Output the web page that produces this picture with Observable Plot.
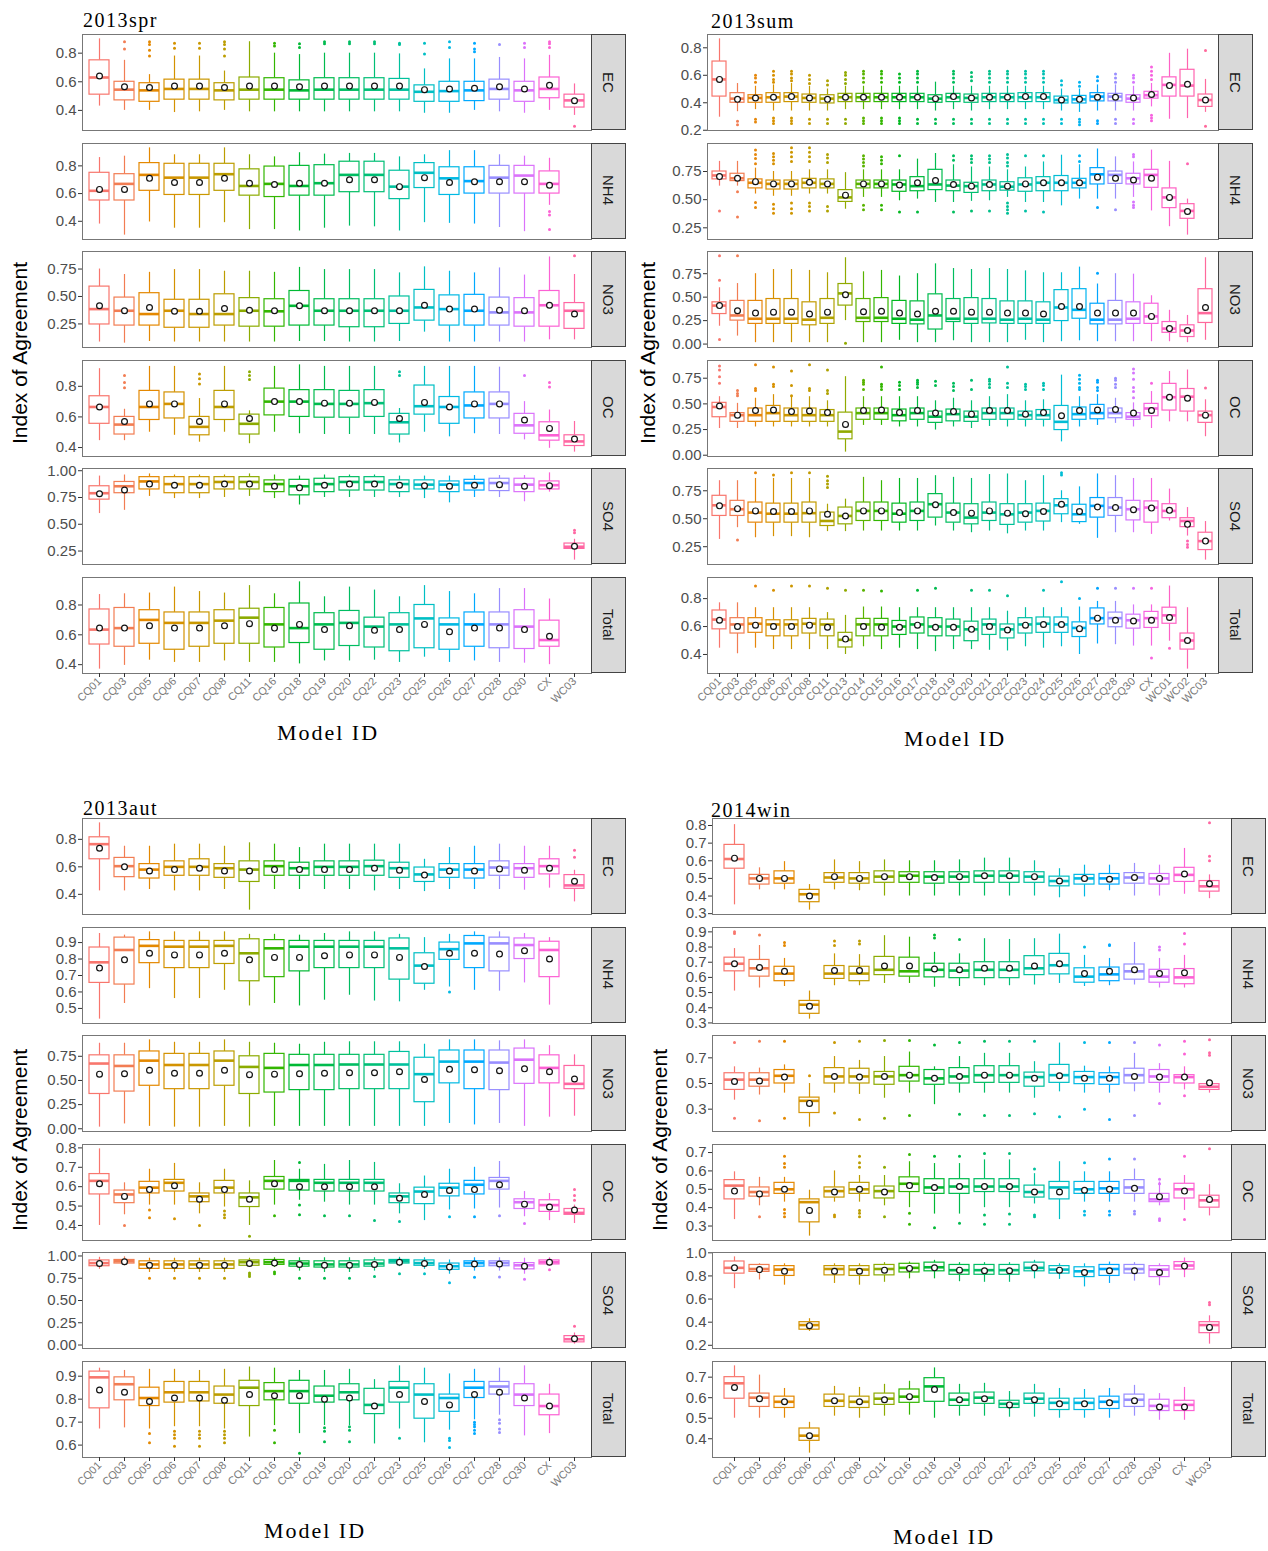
<!DOCTYPE html>
<html><head><meta charset="utf-8">
<script src="https://cdn.jsdelivr.net/npm/d3@7"></script>
<script src="https://cdn.jsdelivr.net/npm/@observablehq/plot@0.6"></script>
<style>
body{margin:0;background:#fff;}
#root{position:relative;width:1268px;height:1551px;overflow:hidden;background:#fff;font-family:"Liberation Sans",Arial,sans-serif;}
.strip{position:absolute;background:#d9d9d9;border:1px solid #444;box-sizing:border-box;display:flex;align-items:center;justify-content:center;writing-mode:vertical-rl;font-size:15px;color:#1a1a1a;}
.ytitle{position:absolute;transform:translate(-50%,-50%) rotate(-90deg);font-size:21px;color:#000;white-space:nowrap;}
.title{position:absolute;font-family:"Liberation Serif",serif;font-size:20px;letter-spacing:1.5px;line-height:1;color:#000;}
.xtitle{position:absolute;transform:translate(-50%,-50%);font-family:"Liberation Serif",serif;font-size:22px;letter-spacing:2px;white-space:nowrap;color:#000;}
</style></head><body><div id="root"></div>
<script>
// ---------- categories ----------
const modelsA = ["CQ01","CQ03","CQ05","CQ06","CQ07","CQ08","CQ11","CQ16","CQ18","CQ19","CQ20","CQ22","CQ23","CQ25","CQ26","CQ27","CQ28","CQ30","CX","WC03"];
const modelsB = ["CQ01","CQ03","CQ05","CQ06","CQ07","CQ08","CQ11","CQ13","CQ14","CQ15","CQ16","CQ17","CQ18","CQ19","CQ20","CQ21","CQ22","CQ23","CQ24","CQ25","CQ26","CQ27","CQ28","CQ30","CX","WC01","WC02","WC03"];
const facetNames = ["EC","NH4","NO3","OC","SO4","Total"];
// hue (HCL, c=100, l=65) given to each model
const huesA = [15,24,40,54,63,72,98,124,134,141,148,156,174,195,215,240,268,295,325,352];
const huesB = [15,24,38,52,60,68,80,96,116,124,130,136,141,146,153,164,171,178,186,205,225,245,268,292,318,334,345,355];
// row = [whiskerLow, Q1, median, Q3, whiskerHigh, mean, [outliers]]  (null = no data)

// ---------- 2013spr ----------
const spr_EC = [
[0.43,0.51,0.63,0.75,0.90,0.64,[]],
[0.40,0.47,0.545,0.60,0.75,0.565,[0.88,0.83]],
[0.40,0.46,0.54,0.59,0.65,0.56,[0.88,0.86,0.82,0.78]],
[0.385,0.475,0.55,0.615,0.78,0.57,[0.87,0.835]],
[0.39,0.475,0.55,0.615,0.78,0.57,[0.87,0.835]],
[0.40,0.47,0.54,0.59,0.675,0.56,[0.88,0.86,0.83,0.78]],
[0.39,0.475,0.545,0.63,0.88,0.57,[]],
[0.39,0.475,0.545,0.625,0.80,0.57,[0.87,0.85]],
[0.39,0.475,0.54,0.61,0.79,0.565,[0.865,0.84]],
[0.39,0.475,0.545,0.625,0.80,0.57,[0.88,0.865]],
[0.39,0.475,0.545,0.625,0.80,0.57,[0.88,0.865]],
[0.39,0.475,0.545,0.625,0.80,0.57,[0.88,0.865]],
[0.39,0.475,0.545,0.62,0.795,0.57,[0.87,0.86]],
[0.38,0.46,0.53,0.575,0.69,0.545,[0.87,0.795]],
[0.38,0.46,0.535,0.60,0.76,0.55,[0.88,0.84]],
[0.40,0.465,0.54,0.60,0.76,0.555,[0.87,0.83,0.81]],
[0.39,0.475,0.55,0.615,0.77,0.565,[0.86]],
[0.38,0.46,0.54,0.60,0.76,0.55,[0.87,0.84]],
[0.40,0.485,0.55,0.63,0.785,0.575,[0.88,0.865,0.84]],
[0.365,0.42,0.47,0.51,0.585,0.467,[0.29]]];
const spr_NH4 = [
[0.38,0.55,0.62,0.75,0.86,0.63,[]],
[0.30,0.55,0.67,0.74,0.87,0.63,[]],
[0.395,0.62,0.735,0.82,0.93,0.71,[]],
[0.35,0.59,0.715,0.815,0.88,0.68,[]],
[0.35,0.59,0.715,0.815,0.88,0.68,[]],
[0.39,0.62,0.74,0.815,0.93,0.71,[]],
[0.34,0.585,0.655,0.775,0.88,0.675,[]],
[0.34,0.575,0.67,0.795,0.865,0.665,[]],
[0.33,0.585,0.655,0.80,0.895,0.675,[]],
[0.35,0.585,0.675,0.805,0.885,0.675,[]],
[0.365,0.61,0.735,0.83,0.89,0.70,[]],
[0.36,0.61,0.735,0.83,0.89,0.70,[]],
[0.33,0.56,0.65,0.765,0.865,0.65,[]],
[0.39,0.64,0.75,0.82,0.88,0.715,[]],
[0.385,0.59,0.71,0.79,0.91,0.68,[]],
[0.38,0.60,0.69,0.79,0.91,0.685,[]],
[0.355,0.60,0.715,0.80,0.88,0.685,[]],
[0.325,0.60,0.73,0.80,0.87,0.685,[]],
[0.515,0.60,0.67,0.76,0.855,0.66,[0.47,0.445,0.34]],
null];
const spr_NO3 = [
[0.085,0.245,0.385,0.59,0.75,0.415,[]],
[0.075,0.235,0.37,0.49,0.70,0.37,[]],
[0.09,0.235,0.34,0.53,0.72,0.40,[]],
[0.085,0.215,0.37,0.47,0.745,0.365,[]],
[0.085,0.215,0.34,0.47,0.745,0.365,[]],
[0.085,0.235,0.34,0.52,0.73,0.39,[]],
[0.085,0.225,0.37,0.485,0.73,0.375,[]],
[0.085,0.225,0.365,0.475,0.72,0.37,[]],
[0.09,0.235,0.415,0.55,0.765,0.415,[]],
[0.09,0.235,0.37,0.475,0.745,0.37,[]],
[0.085,0.22,0.37,0.475,0.745,0.37,[]],
[0.085,0.22,0.37,0.475,0.745,0.37,[]],
[0.09,0.25,0.37,0.50,0.715,0.37,[]],
[0.175,0.28,0.40,0.56,0.77,0.42,[]],
[0.085,0.235,0.385,0.51,0.73,0.385,[]],
[0.085,0.235,0.37,0.515,0.715,0.385,[]],
[0.085,0.235,0.355,0.49,0.76,0.375,[]],
[0.085,0.225,0.355,0.485,0.695,0.37,[]],
[0.105,0.225,0.42,0.55,0.86,0.42,[]],
[0.105,0.205,0.37,0.44,0.70,0.34,[0.87]]];
const spr_OC = [
[0.445,0.555,0.665,0.735,0.915,0.665,[]],
[0.445,0.485,0.55,0.60,0.65,0.57,[0.87,0.825,0.79]],
[0.50,0.58,0.665,0.77,0.93,0.685,[]],
[0.48,0.59,0.685,0.76,0.93,0.685,[]],
[0.435,0.48,0.535,0.60,0.72,0.57,[0.88,0.85,0.815]],
[0.50,0.58,0.665,0.77,0.93,0.685,[]],
[0.425,0.485,0.555,0.615,0.64,0.59,[0.895,0.87,0.845]],
[0.50,0.61,0.70,0.785,0.93,0.70,[]],
[0.49,0.60,0.70,0.775,0.94,0.70,[]],
[0.485,0.595,0.685,0.775,0.93,0.69,[]],
[0.485,0.595,0.685,0.77,0.93,0.69,[]],
[0.485,0.60,0.69,0.775,0.93,0.695,[]],
[0.43,0.485,0.565,0.62,0.655,0.59,[0.895,0.87]],
[0.50,0.615,0.67,0.805,0.93,0.695,[]],
[0.47,0.555,0.665,0.73,0.93,0.665,[]],
[0.49,0.59,0.675,0.76,0.93,0.685,[]],
[0.485,0.59,0.685,0.76,0.925,0.685,[]],
[0.45,0.49,0.545,0.62,0.70,0.58,[0.87]],
[0.395,0.445,0.48,0.565,0.645,0.525,[0.825,0.795]],
[0.37,0.41,0.44,0.48,0.57,0.455,[]]];
const spr_SO4 = [
[0.60,0.73,0.79,0.855,0.95,0.785,[]],
[0.63,0.79,0.855,0.895,0.96,0.82,[]],
[0.76,0.825,0.90,0.94,0.97,0.875,[]],
[0.74,0.79,0.875,0.94,0.96,0.865,[]],
[0.74,0.79,0.875,0.94,0.96,0.865,[]],
[0.75,0.825,0.895,0.94,0.96,0.875,[]],
[0.76,0.825,0.895,0.94,0.97,0.875,[]],
[0.74,0.80,0.875,0.91,0.96,0.855,[]],
[0.68,0.77,0.855,0.915,0.95,0.84,[]],
[0.75,0.80,0.875,0.925,0.96,0.865,[]],
[0.75,0.815,0.895,0.94,0.96,0.875,[]],
[0.75,0.815,0.895,0.94,0.96,0.875,[]],
[0.75,0.80,0.875,0.91,0.95,0.865,[]],
[0.74,0.825,0.87,0.91,0.95,0.86,[]],
[0.70,0.80,0.87,0.90,0.95,0.855,[]],
[0.75,0.815,0.885,0.915,0.955,0.865,[]],
[0.75,0.81,0.885,0.925,0.955,0.87,[]],
[0.71,0.80,0.87,0.925,0.955,0.855,[]],
[0.80,0.825,0.865,0.90,0.98,0.86,[]],
[0.165,0.27,0.29,0.32,0.36,0.295,[0.445,0.42]]];
const spr_Total = [
[0.37,0.535,0.635,0.77,0.87,0.645,[]],
[0.395,0.52,0.645,0.78,0.875,0.645,[]],
[0.43,0.54,0.70,0.765,0.88,0.66,[]],
[0.415,0.50,0.68,0.75,0.92,0.645,[]],
[0.415,0.52,0.68,0.75,0.89,0.645,[]],
[0.425,0.54,0.695,0.765,0.88,0.66,[]],
[0.415,0.54,0.715,0.775,0.93,0.675,[]],
[0.415,0.515,0.67,0.78,0.875,0.645,[]],
[0.405,0.545,0.645,0.81,0.955,0.67,[]],
[0.425,0.50,0.67,0.745,0.855,0.635,[]],
[0.425,0.525,0.68,0.76,0.92,0.66,[]],
[0.43,0.515,0.655,0.715,0.90,0.63,[]],
[0.415,0.49,0.67,0.745,0.855,0.635,[]],
[0.45,0.51,0.71,0.80,0.93,0.67,[]],
[0.415,0.50,0.67,0.71,0.89,0.62,[]],
[0.425,0.52,0.67,0.75,0.875,0.645,[]],
[0.415,0.51,0.67,0.75,0.91,0.645,[]],
[0.41,0.505,0.655,0.765,0.91,0.635,[]],
[0.40,0.52,0.565,0.695,0.84,0.59,[]],
null];

// ---------- 2013sum ----------
const sum_EC = [
[0.295,0.445,0.57,0.70,0.865,0.57,[]],
[0.335,0.40,0.43,0.47,0.54,0.425,[0.265,0.24]],
[0.35,0.40,0.435,0.455,0.52,0.435,[0.55,0.58,0.60,0.26,0.28]],
[0.34,0.40,0.44,0.47,0.53,0.44,[0.55,0.57,0.60,0.63,0.25,0.27,0.29]],
[0.34,0.405,0.445,0.47,0.54,0.445,[0.56,0.58,0.61,0.63,0.25,0.27,0.29]],
[0.34,0.40,0.435,0.46,0.52,0.435,[0.54,0.57,0.60,0.25,0.28]],
[0.34,0.395,0.43,0.455,0.50,0.425,[0.53,0.56,0.25,0.28]],
[0.35,0.405,0.44,0.465,0.52,0.44,[0.54,0.57,0.60,0.62,0.25,0.28]],
[0.35,0.405,0.44,0.465,0.52,0.44,[0.55,0.58,0.61,0.63,0.25,0.27,0.29]],
[0.35,0.405,0.44,0.465,0.52,0.44,[0.55,0.58,0.61,0.63,0.25,0.27,0.29]],
[0.35,0.405,0.44,0.465,0.52,0.44,[0.55,0.58,0.61,0.25,0.27,0.29]],
[0.35,0.405,0.44,0.465,0.52,0.44,[0.55,0.58,0.61,0.63,0.25,0.28]],
[0.34,0.40,0.43,0.455,0.55,0.43,[0.25,0.28]],
[0.35,0.405,0.44,0.465,0.52,0.445,[0.55,0.58,0.61,0.63,0.25,0.28]],
[0.34,0.40,0.435,0.46,0.52,0.435,[0.56,0.59,0.62,0.25,0.28]],
[0.35,0.405,0.44,0.465,0.52,0.44,[0.55,0.58,0.61,0.63,0.25,0.28]],
[0.35,0.405,0.44,0.465,0.52,0.44,[0.55,0.58,0.61,0.63,0.25,0.28]],
[0.35,0.405,0.44,0.47,0.52,0.445,[0.55,0.58,0.61,0.63,0.25,0.28]],
[0.35,0.405,0.44,0.47,0.52,0.445,[0.55,0.58,0.61,0.63,0.25,0.28]],
[0.34,0.395,0.42,0.445,0.50,0.42,[0.53,0.56,0.25,0.28]],
[0.33,0.395,0.425,0.45,0.50,0.425,[0.52,0.55,0.24,0.26,0.28]],
[0.34,0.41,0.445,0.47,0.53,0.44,[0.56,0.59,0.25,0.27]],
[0.34,0.41,0.445,0.465,0.53,0.44,[0.55,0.58,0.61,0.25,0.28]],
[0.34,0.40,0.43,0.455,0.52,0.435,[0.55,0.58,0.60,0.25,0.28]],
[0.37,0.43,0.455,0.48,0.54,0.46,[0.57,0.60,0.63,0.66,0.27,0.29,0.31]],
[0.28,0.445,0.53,0.585,0.76,0.525,[]],
[0.285,0.445,0.525,0.64,0.79,0.535,[]],
[0.33,0.37,0.42,0.46,0.57,0.42,[0.78,0.23]]];
const sum_NH4 = [
[0.62,0.68,0.715,0.75,0.84,0.705,[0.40]],
[0.62,0.665,0.69,0.73,0.84,0.69,[0.57,0.345]],
[0.55,0.60,0.65,0.68,0.78,0.66,[0.94,0.90,0.865,0.82,0.475,0.43]],
[0.53,0.59,0.64,0.67,0.75,0.64,[0.91,0.88,0.85,0.82,0.46,0.42,0.38]],
[0.53,0.59,0.64,0.67,0.75,0.64,[0.96,0.92,0.88,0.84,0.47,0.42,0.38]],
[0.55,0.60,0.65,0.685,0.765,0.655,[0.96,0.92,0.88,0.84,0.47,0.44,0.40]],
[0.55,0.60,0.64,0.68,0.765,0.64,[0.90,0.87,0.83,0.44,0.40]],
[0.415,0.48,0.52,0.585,0.74,0.54,[]],
[0.52,0.60,0.64,0.67,0.765,0.64,[0.89,0.86,0.83,0.80,0.45,0.41]],
[0.52,0.60,0.64,0.67,0.765,0.64,[0.88,0.85,0.82,0.45,0.41]],
[0.49,0.57,0.635,0.67,0.765,0.63,[0.89,0.39]],
[0.505,0.575,0.62,0.70,0.86,0.65,[0.39]],
[0.475,0.585,0.635,0.765,0.91,0.67,[]],
[0.475,0.575,0.625,0.67,0.81,0.635,[0.89,0.85,0.39]],
[0.485,0.56,0.62,0.65,0.79,0.62,[0.89,0.86,0.83,0.40]],
[0.49,0.575,0.635,0.67,0.79,0.635,[0.89,0.86,0.83,0.40]],
[0.52,0.58,0.615,0.655,0.765,0.62,[0.90,0.87,0.83,0.80,0.47,0.44,0.41,0.38]],
[0.475,0.57,0.635,0.69,0.79,0.64,[0.89,0.40]],
[0.475,0.575,0.65,0.70,0.835,0.65,[0.89,0.39]],
[0.445,0.575,0.65,0.71,0.895,0.65,[]],
[0.505,0.60,0.65,0.685,0.81,0.65,[0.89,0.84]],
[0.505,0.635,0.725,0.78,0.95,0.70,[0.43]],
[0.505,0.64,0.72,0.75,0.88,0.69,[0.41]],
[0.52,0.635,0.69,0.73,0.835,0.675,[0.90,0.88,0.48,0.45,0.43]],
[0.40,0.605,0.72,0.765,0.94,0.69,[]],
[0.26,0.425,0.52,0.60,0.84,0.52,[]],
[0.185,0.33,0.40,0.46,0.505,0.395,[0.82]],
null];
const sum_NO3 = [
[0.19,0.32,0.41,0.445,0.60,0.41,[0.94,0.68,0.05]],
[0.085,0.25,0.305,0.46,0.645,0.355,[0.94]],
[0.015,0.215,0.27,0.46,0.75,0.33,[]],
[0.015,0.215,0.27,0.48,0.795,0.34,[]],
[0.015,0.215,0.27,0.48,0.795,0.34,[]],
[0.015,0.20,0.26,0.445,0.785,0.32,[]],
[0.015,0.215,0.28,0.48,0.76,0.34,[]],
[0.25,0.41,0.54,0.64,0.92,0.525,[0.01]],
[0.015,0.235,0.28,0.48,0.77,0.345,[]],
[0.015,0.235,0.28,0.49,0.785,0.35,[]],
[0.04,0.215,0.27,0.46,0.725,0.33,[]],
[0.015,0.21,0.26,0.455,0.75,0.32,[]],
[0.015,0.155,0.305,0.53,0.855,0.35,[]],
[0.035,0.235,0.27,0.48,0.805,0.35,[]],
[0.015,0.215,0.27,0.49,0.795,0.34,[]],
[0.015,0.22,0.27,0.48,0.805,0.34,[]],
[0.015,0.215,0.26,0.455,0.795,0.33,[]],
[0.04,0.215,0.27,0.455,0.78,0.33,[]],
[0.015,0.215,0.26,0.445,0.76,0.32,[]],
[0.025,0.245,0.39,0.575,0.76,0.40,[]],
[0.035,0.27,0.365,0.585,0.82,0.40,[]],
[0.025,0.21,0.26,0.43,0.64,0.33,[0.755]],
[0.025,0.21,0.26,0.46,0.75,0.33,[]],
[0.025,0.215,0.27,0.445,0.745,0.33,[]],
[0.025,0.215,0.295,0.43,0.515,0.295,[]],
[0.025,0.12,0.165,0.235,0.36,0.165,[]],
[0.015,0.075,0.145,0.20,0.305,0.145,[]],
[0.04,0.225,0.33,0.585,0.92,0.39,[]]];
const sum_OC = [
[0.26,0.37,0.47,0.51,0.57,0.48,[0.87,0.83,0.765,0.70]],
[0.26,0.325,0.39,0.41,0.505,0.39,[0.63,0.60,0.58]],
[0.275,0.325,0.39,0.455,0.555,0.435,[0.88,0.65,0.63]],
[0.275,0.325,0.41,0.48,0.59,0.44,[0.86,0.69,0.67]],
[0.275,0.325,0.39,0.455,0.57,0.425,[0.82,0.68,0.58]],
[0.275,0.325,0.39,0.455,0.57,0.43,[0.88,0.65,0.63]],
[0.275,0.325,0.39,0.44,0.53,0.415,[0.83,0.63,0.60]],
[0.03,0.155,0.23,0.415,0.765,0.30,[]],
[0.29,0.345,0.41,0.455,0.57,0.435,[0.73,0.71,0.69,0.64]],
[0.29,0.345,0.41,0.455,0.57,0.44,[0.86,0.69,0.67,0.64]],
[0.275,0.33,0.39,0.445,0.57,0.415,[0.71,0.68,0.64]],
[0.275,0.345,0.41,0.455,0.57,0.435,[0.73,0.71,0.69,0.66]],
[0.245,0.315,0.375,0.425,0.53,0.41,[0.72,0.68]],
[0.275,0.33,0.40,0.445,0.555,0.425,[0.70,0.67,0.63]],
[0.26,0.325,0.375,0.425,0.53,0.40,[0.73,0.64]],
[0.28,0.345,0.41,0.455,0.57,0.435,[0.74,0.72,0.69,0.66]],
[0.275,0.345,0.41,0.455,0.59,0.435,[0.86,0.70,0.66]],
[0.275,0.345,0.39,0.425,0.53,0.40,[0.69,0.67,0.64]],
[0.275,0.345,0.39,0.44,0.54,0.415,[0.70,0.68,0.64]],
[0.13,0.245,0.325,0.48,0.78,0.385,[]],
[0.275,0.345,0.40,0.465,0.57,0.435,[0.78,0.74,0.70,0.66,0.64]],
[0.29,0.35,0.41,0.49,0.59,0.44,[0.73,0.71,0.66,0.63]],
[0.31,0.36,0.41,0.455,0.555,0.445,[0.75,0.73,0.69,0.66]],
[0.275,0.345,0.375,0.41,0.51,0.41,[0.84,0.80,0.74,0.66,0.62,0.56]],
[0.26,0.38,0.455,0.50,0.62,0.435,[0.70]],
[0.325,0.435,0.565,0.695,0.815,0.565,[]],
[0.325,0.425,0.57,0.645,0.83,0.555,[]],
[0.18,0.315,0.39,0.425,0.54,0.39,[0.655]]];
const sum_SO4 = [
[0.315,0.525,0.62,0.705,0.84,0.615,[]],
[0.42,0.525,0.585,0.66,0.84,0.59,[0.31]],
[0.33,0.465,0.555,0.645,0.86,0.57,[0.91]],
[0.34,0.465,0.545,0.635,0.86,0.565,[0.89]],
[0.34,0.465,0.545,0.635,0.86,0.565,[0.91]],
[0.33,0.465,0.55,0.645,0.86,0.57,[0.91]],
[0.385,0.435,0.48,0.555,0.63,0.54,[0.88,0.84,0.81,0.78]],
[0.385,0.45,0.525,0.60,0.675,0.525,[]],
[0.39,0.48,0.57,0.645,0.87,0.57,[]],
[0.39,0.48,0.57,0.645,0.84,0.57,[]],
[0.39,0.465,0.545,0.635,0.86,0.555,[]],
[0.39,0.48,0.57,0.645,0.86,0.57,[]],
[0.435,0.51,0.63,0.72,0.885,0.625,[]],
[0.39,0.465,0.555,0.635,0.87,0.555,[]],
[0.375,0.45,0.51,0.63,0.86,0.55,[]],
[0.39,0.48,0.555,0.645,0.895,0.57,[]],
[0.365,0.445,0.54,0.63,0.90,0.55,[]],
[0.39,0.465,0.555,0.63,0.84,0.545,[]],
[0.39,0.475,0.57,0.635,0.885,0.565,[]],
[0.465,0.54,0.62,0.675,0.75,0.63,[0.91,0.89]],
[0.45,0.47,0.54,0.625,0.785,0.565,[]],
[0.325,0.51,0.615,0.685,0.90,0.605,[]],
[0.375,0.525,0.60,0.685,0.885,0.60,[]],
[0.375,0.485,0.585,0.66,0.86,0.58,[]],
[0.36,0.465,0.60,0.655,0.86,0.595,[]],
[0.48,0.505,0.57,0.63,0.765,0.575,[]],
[0.345,0.425,0.48,0.505,0.60,0.45,[0.30,0.27,0.245]],
[0.13,0.22,0.30,0.375,0.475,0.30,[]]];
const sum_Total = [
[0.445,0.58,0.65,0.715,0.77,0.645,[]],
[0.405,0.55,0.615,0.66,0.77,0.60,[]],
[0.445,0.555,0.62,0.66,0.735,0.61,[0.89]],
[0.435,0.53,0.615,0.645,0.735,0.60,[0.86]],
[0.435,0.53,0.615,0.645,0.735,0.60,[0.89]],
[0.435,0.55,0.62,0.655,0.735,0.61,[0.89]],
[0.435,0.53,0.615,0.65,0.70,0.595,[0.875]],
[0.40,0.45,0.505,0.555,0.68,0.51,[0.86]],
[0.455,0.53,0.615,0.655,0.74,0.60,[0.86]],
[0.435,0.53,0.615,0.655,0.74,0.595,[0.855]],
[0.445,0.54,0.60,0.64,0.735,0.595,[]],
[0.435,0.55,0.615,0.665,0.735,0.61,[0.86]],
[0.42,0.53,0.60,0.66,0.735,0.595,[0.875]],
[0.435,0.53,0.60,0.65,0.735,0.595,[]],
[0.435,0.495,0.58,0.635,0.735,0.58,[0.86]],
[0.43,0.54,0.615,0.65,0.735,0.60,[0.86]],
[0.425,0.515,0.58,0.615,0.71,0.575,[0.82]],
[0.455,0.55,0.615,0.66,0.735,0.61,[]],
[0.445,0.555,0.62,0.665,0.735,0.615,[0.86]],
[0.455,0.555,0.615,0.665,0.735,0.615,[0.92]],
[0.40,0.525,0.59,0.63,0.74,0.585,[0.80]],
[0.475,0.615,0.66,0.73,0.78,0.66,[0.875]],
[0.47,0.595,0.66,0.70,0.78,0.645,[0.875]],
[0.46,0.585,0.645,0.685,0.755,0.64,[0.875]],
[0.46,0.59,0.66,0.705,0.755,0.645,[0.875,0.375]],
[0.495,0.62,0.68,0.735,0.89,0.665,[0.445]],
[0.295,0.435,0.50,0.55,0.735,0.50,[]],
null];

// ---------- 2013aut ----------
const aut_EC = [
[0.425,0.655,0.765,0.815,0.92,0.735,[]],
[0.425,0.525,0.605,0.665,0.75,0.60,[]],
[0.435,0.515,0.58,0.62,0.75,0.57,[]],
[0.425,0.535,0.60,0.64,0.765,0.58,[]],
[0.425,0.535,0.60,0.655,0.765,0.59,[]],
[0.435,0.52,0.59,0.62,0.75,0.57,[]],
[0.285,0.49,0.58,0.64,0.775,0.57,[]],
[0.435,0.535,0.605,0.64,0.765,0.58,[]],
[0.435,0.535,0.59,0.63,0.74,0.58,[]],
[0.435,0.535,0.60,0.64,0.765,0.58,[]],
[0.435,0.535,0.60,0.64,0.765,0.58,[]],
[0.425,0.535,0.605,0.645,0.765,0.59,[]],
[0.435,0.52,0.59,0.63,0.765,0.575,[]],
[0.42,0.49,0.545,0.595,0.655,0.54,[]],
[0.435,0.52,0.58,0.62,0.74,0.57,[]],
[0.435,0.515,0.58,0.62,0.75,0.57,[]],
[0.435,0.535,0.595,0.64,0.765,0.585,[]],
[0.43,0.52,0.59,0.62,0.75,0.575,[]],
[0.445,0.545,0.605,0.655,0.75,0.59,[]],
[0.345,0.44,0.465,0.54,0.575,0.495,[0.72,0.67]]];
const aut_NH4 = [
[0.435,0.655,0.78,0.87,0.955,0.745,[]],
[0.53,0.645,0.855,0.93,0.945,0.795,[]],
[0.62,0.775,0.88,0.915,0.965,0.835,[]],
[0.56,0.745,0.875,0.91,0.965,0.825,[]],
[0.56,0.745,0.875,0.91,0.965,0.825,[]],
[0.61,0.77,0.88,0.91,0.965,0.835,[]],
[0.515,0.665,0.835,0.92,0.95,0.795,[]],
[0.53,0.69,0.865,0.915,0.95,0.81,[]],
[0.515,0.725,0.875,0.91,0.945,0.81,[]],
[0.55,0.745,0.875,0.91,0.955,0.82,[]],
[0.58,0.745,0.875,0.91,0.965,0.825,[]],
[0.545,0.745,0.875,0.91,0.965,0.825,[]],
[0.54,0.675,0.865,0.925,0.95,0.81,[]],
[0.61,0.65,0.76,0.835,0.93,0.755,[]],
[0.63,0.795,0.86,0.90,0.95,0.835,[0.60]],
[0.61,0.745,0.895,0.94,0.965,0.835,[]],
[0.605,0.725,0.895,0.93,0.965,0.83,[]],
[0.655,0.80,0.885,0.925,0.955,0.85,[]],
[0.52,0.69,0.855,0.905,0.93,0.80,[]],
null];
const aut_NO3 = [
[0.017,0.36,0.675,0.76,0.885,0.565,[]],
[0.05,0.385,0.65,0.76,0.885,0.57,[]],
[0.025,0.445,0.705,0.80,0.92,0.605,[]],
[0.017,0.41,0.66,0.775,0.895,0.575,[]],
[0.017,0.41,0.66,0.775,0.895,0.575,[]],
[0.025,0.445,0.705,0.80,0.92,0.605,[]],
[0.017,0.36,0.64,0.75,0.895,0.56,[]],
[0.025,0.375,0.63,0.775,0.885,0.565,[]],
[0.025,0.40,0.66,0.765,0.875,0.57,[]],
[0.025,0.40,0.66,0.765,0.895,0.575,[]],
[0.025,0.41,0.665,0.765,0.90,0.58,[]],
[0.025,0.41,0.665,0.765,0.90,0.58,[]],
[0.025,0.41,0.665,0.795,0.90,0.59,[]],
[0.025,0.275,0.565,0.735,0.875,0.51,[]],
[0.055,0.47,0.695,0.81,0.92,0.615,[]],
[0.04,0.41,0.695,0.81,0.92,0.61,[]],
[0.055,0.40,0.685,0.81,0.91,0.60,[]],
[0.025,0.465,0.715,0.83,0.92,0.62,[]],
[0.12,0.47,0.63,0.76,0.86,0.59,[]],
[0.13,0.41,0.465,0.65,0.765,0.515,[]]];
const aut_OC = [
[0.40,0.56,0.63,0.665,0.795,0.615,[]],
[0.455,0.515,0.56,0.58,0.62,0.55,[0.40]],
[0.505,0.565,0.595,0.625,0.69,0.585,[0.48,0.44]],
[0.505,0.575,0.62,0.635,0.72,0.605,[0.435]],
[0.46,0.52,0.55,0.565,0.62,0.535,[0.40]],
[0.495,0.565,0.595,0.63,0.69,0.585,[0.475,0.455,0.44]],
[0.40,0.495,0.545,0.565,0.63,0.535,[0.345]],
[0.505,0.585,0.63,0.65,0.735,0.615,[0.45]],
[0.53,0.58,0.63,0.635,0.69,0.60,[0.725,0.505,0.455]],
[0.52,0.575,0.62,0.635,0.715,0.60,[0.45]],
[0.505,0.575,0.62,0.635,0.735,0.60,[0.45]],
[0.505,0.575,0.62,0.635,0.725,0.60,[0.425]],
[0.46,0.515,0.55,0.565,0.615,0.54,[0.42]],
[0.425,0.51,0.575,0.595,0.655,0.56,[]],
[0.48,0.55,0.595,0.615,0.69,0.58,[0.445]],
[0.485,0.56,0.61,0.63,0.70,0.585,[0.445]],
[0.49,0.585,0.63,0.645,0.73,0.61,[0.45]],
[0.445,0.485,0.52,0.535,0.575,0.51,[0.41]],
[0.425,0.47,0.505,0.53,0.565,0.495,[]],
[0.41,0.455,0.465,0.485,0.505,0.48,[0.585,0.555,0.53]]];
const aut_SO4 = [
[0.85,0.885,0.92,0.95,0.985,0.915,[]],
[0.89,0.915,0.94,0.955,0.99,0.935,[]],
[0.815,0.855,0.905,0.94,0.975,0.895,[0.75]],
[0.815,0.855,0.905,0.94,0.975,0.895,[0.75]],
[0.815,0.855,0.905,0.94,0.975,0.895,[0.75]],
[0.815,0.855,0.905,0.94,0.975,0.895,[0.75]],
[0.87,0.89,0.93,0.95,0.975,0.915,[0.81,0.79,0.77]],
[0.87,0.90,0.93,0.955,0.98,0.92,[0.82,0.80]],
[0.83,0.88,0.915,0.94,0.98,0.905,[0.75]],
[0.815,0.87,0.905,0.94,0.98,0.895,[0.75]],
[0.815,0.87,0.905,0.94,0.98,0.895,[0.75]],
[0.83,0.88,0.915,0.95,0.98,0.905,[0.77]],
[0.88,0.915,0.94,0.955,0.985,0.93,[0.80]],
[0.85,0.89,0.92,0.95,0.98,0.915,[0.80]],
[0.795,0.845,0.885,0.915,0.955,0.875,[0.70]],
[0.83,0.88,0.92,0.94,0.98,0.91,[0.76]],
[0.83,0.885,0.92,0.94,0.98,0.91,[0.765]],
[0.795,0.85,0.895,0.92,0.975,0.885,[0.74]],
[0.885,0.905,0.93,0.95,0.98,0.93,[0.845]],
[0.01,0.03,0.065,0.10,0.135,0.07,[0.21]]];
const aut_Total = [
[0.67,0.76,0.895,0.92,0.935,0.84,[]],
[0.675,0.795,0.865,0.895,0.925,0.83,[]],
[0.67,0.77,0.805,0.85,0.93,0.79,[0.65,0.61]],
[0.68,0.785,0.83,0.875,0.93,0.805,[0.66,0.645,0.63,0.595]],
[0.68,0.79,0.83,0.875,0.925,0.805,[0.66,0.645,0.63,0.595]],
[0.67,0.78,0.82,0.855,0.93,0.795,[0.66,0.645,0.63,0.61]],
[0.635,0.77,0.85,0.88,0.94,0.82,[]],
[0.685,0.795,0.835,0.87,0.935,0.815,[0.665,0.61]],
[0.65,0.78,0.835,0.88,0.925,0.815,[0.565]],
[0.685,0.785,0.815,0.855,0.925,0.80,[0.675,0.66,0.615]],
[0.685,0.795,0.83,0.865,0.93,0.805,[0.68,0.665,0.615]],
[0.605,0.735,0.775,0.845,0.885,0.77,[]],
[0.67,0.785,0.85,0.875,0.945,0.82,[0.63]],
[0.61,0.715,0.82,0.865,0.935,0.79,[]],
[0.665,0.745,0.805,0.82,0.91,0.775,[0.63,0.62,0.59]],
[0.71,0.805,0.85,0.875,0.93,0.82,[0.70,0.69,0.68,0.665,0.65]],
[0.73,0.82,0.855,0.875,0.935,0.83,[0.71,0.695,0.67,0.655]],
[0.64,0.77,0.82,0.865,0.945,0.805,[]],
[0.65,0.73,0.77,0.82,0.865,0.77,[]],
null];

// ---------- 2014win ----------
const win_EC = [
[0.35,0.555,0.61,0.69,0.805,0.615,[]],
[0.435,0.465,0.50,0.52,0.56,0.50,[]],
[0.435,0.47,0.50,0.54,0.595,0.50,[]],
[0.32,0.365,0.41,0.435,0.465,0.40,[]],
[0.435,0.475,0.505,0.53,0.605,0.51,[]],
[0.43,0.47,0.50,0.53,0.595,0.50,[]],
[0.40,0.475,0.51,0.54,0.605,0.51,[]],
[0.40,0.475,0.515,0.535,0.60,0.51,[]],
[0.40,0.47,0.51,0.535,0.60,0.505,[]],
[0.40,0.475,0.51,0.535,0.605,0.51,[]],
[0.40,0.475,0.515,0.54,0.615,0.515,[]],
[0.40,0.475,0.515,0.54,0.615,0.515,[]],
[0.40,0.475,0.51,0.535,0.60,0.51,[]],
[0.39,0.455,0.485,0.51,0.555,0.485,[]],
[0.395,0.465,0.50,0.52,0.575,0.50,[]],
[0.43,0.465,0.50,0.525,0.575,0.495,[]],
[0.40,0.47,0.505,0.53,0.585,0.505,[]],
[0.40,0.465,0.50,0.525,0.575,0.50,[]],
[0.41,0.48,0.52,0.56,0.67,0.525,[]],
[0.385,0.425,0.455,0.485,0.52,0.47,[0.815,0.625,0.60]]];
const win_NH4 = [
[0.51,0.64,0.69,0.73,0.79,0.69,[0.90,0.89]],
[0.53,0.605,0.66,0.715,0.81,0.665,[0.88]],
[0.54,0.575,0.625,0.67,0.725,0.64,[0.83,0.81]],
[0.325,0.36,0.42,0.445,0.51,0.41,[]],
[0.545,0.59,0.625,0.675,0.755,0.645,[0.84,0.81]],
[0.545,0.575,0.625,0.67,0.75,0.645,[0.84,0.82]],
[0.56,0.615,0.65,0.735,0.875,0.675,[]],
[0.56,0.605,0.64,0.73,0.865,0.675,[]],
[0.535,0.60,0.65,0.69,0.765,0.655,[0.88,0.86]],
[0.54,0.595,0.645,0.69,0.755,0.65,[0.85]],
[0.545,0.595,0.65,0.70,0.855,0.66,[]],
[0.545,0.595,0.65,0.70,0.85,0.66,[]],
[0.55,0.615,0.66,0.74,0.855,0.675,[]],
[0.56,0.62,0.68,0.755,0.885,0.69,[]],
[0.54,0.565,0.605,0.66,0.745,0.625,[0.80]],
[0.545,0.575,0.62,0.665,0.725,0.64,[0.815,0.81]],
[0.55,0.585,0.64,0.685,0.83,0.65,[]],
[0.53,0.565,0.605,0.65,0.725,0.625,[0.80,0.78]],
[0.53,0.555,0.60,0.655,0.745,0.63,[0.89,0.82]],
null];
const win_NO3 = [
[0.37,0.45,0.53,0.58,0.63,0.515,[0.82,0.23]],
[0.41,0.475,0.53,0.58,0.62,0.52,[0.83,0.21]],
[0.425,0.50,0.56,0.605,0.645,0.55,[0.83,0.23]],
[0.16,0.27,0.365,0.39,0.50,0.345,[0.56]],
[0.425,0.50,0.555,0.62,0.71,0.555,[0.82,0.27]],
[0.415,0.50,0.555,0.615,0.68,0.55,[0.83,0.22]],
[0.385,0.49,0.555,0.59,0.71,0.555,[0.835,0.23]],
[0.425,0.515,0.565,0.63,0.745,0.565,[0.835,0.25]],
[0.335,0.49,0.54,0.605,0.63,0.54,[0.80]],
[0.425,0.50,0.555,0.62,0.71,0.555,[0.82,0.26]],
[0.425,0.505,0.565,0.635,0.735,0.565,[0.83,0.25]],
[0.425,0.505,0.565,0.635,0.735,0.565,[0.83,0.25]],
[0.385,0.475,0.55,0.585,0.67,0.54,[0.83,0.265]],
[0.435,0.505,0.565,0.645,0.815,0.56,[0.24]],
[0.425,0.495,0.55,0.59,0.635,0.54,[0.82,0.30]],
[0.425,0.49,0.55,0.58,0.63,0.54,[0.82,0.22]],
[0.435,0.50,0.565,0.615,0.735,0.555,[0.82,0.25]],
[0.425,0.505,0.555,0.605,0.655,0.55,[0.80,0.345]],
[0.45,0.50,0.55,0.565,0.63,0.55,[0.83,0.73,0.405]],
[0.425,0.45,0.475,0.495,0.515,0.505,[0.84,0.74,0.72]]];
const win_OC = [
[0.335,0.445,0.52,0.55,0.595,0.49,[]],
[0.41,0.46,0.485,0.51,0.565,0.475,[0.35]],
[0.43,0.475,0.50,0.535,0.565,0.50,[0.68,0.64,0.62,0.39,0.37,0.35]],
[0.245,0.32,0.43,0.445,0.495,0.385,[]],
[0.43,0.455,0.49,0.51,0.60,0.485,[0.36,0.35]],
[0.43,0.475,0.50,0.535,0.575,0.50,[0.68,0.645,0.62,0.385,0.37,0.35]],
[0.41,0.45,0.49,0.515,0.575,0.485,[0.62,0.35]],
[0.40,0.485,0.53,0.565,0.65,0.52,[0.69,0.37,0.31]],
[0.365,0.475,0.51,0.555,0.64,0.51,[0.68,0.29]],
[0.365,0.475,0.515,0.555,0.64,0.515,[0.68,0.315]],
[0.40,0.485,0.515,0.555,0.66,0.515,[0.695,0.36,0.31]],
[0.40,0.485,0.515,0.555,0.66,0.515,[0.695,0.365,0.31]],
[0.42,0.455,0.485,0.52,0.585,0.485,[0.61,0.36,0.35]],
[0.335,0.445,0.51,0.54,0.65,0.485,[]],
[0.43,0.475,0.50,0.54,0.595,0.495,[0.645,0.38,0.36]],
[0.43,0.475,0.505,0.54,0.595,0.50,[0.665,0.38,0.36]],
[0.43,0.475,0.51,0.55,0.61,0.505,[0.665,0.38,0.365]],
[0.41,0.43,0.445,0.475,0.54,0.46,[0.555,0.53,0.34,0.33]],
[0.385,0.45,0.50,0.53,0.575,0.49,[0.68,0.335]],
[0.355,0.40,0.44,0.465,0.525,0.445,[0.72]]];
const win_SO4 = [
[0.69,0.82,0.87,0.925,0.965,0.87,[]],
[0.765,0.835,0.86,0.895,0.905,0.855,[]],
[0.72,0.80,0.855,0.885,0.905,0.84,[]],
[0.32,0.335,0.375,0.40,0.43,0.37,[]],
[0.735,0.805,0.86,0.885,0.905,0.84,[]],
[0.72,0.80,0.855,0.885,0.905,0.84,[]],
[0.745,0.805,0.86,0.895,0.915,0.85,[]],
[0.775,0.83,0.87,0.905,0.92,0.865,[]],
[0.775,0.84,0.875,0.915,0.935,0.87,[]],
[0.75,0.81,0.85,0.895,0.915,0.85,[]],
[0.745,0.81,0.85,0.895,0.915,0.845,[]],
[0.745,0.81,0.85,0.895,0.915,0.845,[]],
[0.775,0.84,0.87,0.915,0.935,0.87,[]],
[0.77,0.82,0.855,0.885,0.905,0.85,[]],
[0.705,0.79,0.84,0.875,0.905,0.83,[]],
[0.735,0.80,0.86,0.895,0.92,0.845,[]],
[0.755,0.82,0.86,0.895,0.915,0.845,[]],
[0.715,0.79,0.855,0.885,0.905,0.83,[]],
[0.785,0.855,0.89,0.92,0.955,0.885,[]],
[0.21,0.305,0.375,0.40,0.455,0.355,[0.57,0.55]]];
const win_Total = [
[0.50,0.595,0.67,0.70,0.755,0.65,[]],
[0.50,0.555,0.60,0.62,0.71,0.595,[]],
[0.50,0.55,0.58,0.605,0.645,0.58,[]],
[0.33,0.39,0.415,0.45,0.48,0.415,[]],
[0.51,0.555,0.585,0.615,0.655,0.585,[]],
[0.50,0.55,0.58,0.605,0.65,0.58,[]],
[0.51,0.565,0.595,0.62,0.665,0.59,[]],
[0.515,0.575,0.605,0.64,0.68,0.605,[]],
[0.50,0.58,0.655,0.695,0.745,0.64,[]],
[0.51,0.56,0.59,0.62,0.665,0.59,[]],
[0.51,0.57,0.60,0.625,0.67,0.595,[]],
[0.505,0.55,0.57,0.585,0.63,0.565,[]],
[0.505,0.57,0.595,0.62,0.665,0.59,[]],
[0.50,0.54,0.575,0.595,0.645,0.57,[]],
[0.50,0.54,0.575,0.595,0.64,0.57,[]],
[0.50,0.545,0.58,0.605,0.645,0.575,[]],
[0.51,0.555,0.59,0.615,0.66,0.585,[]],
[0.49,0.535,0.56,0.59,0.62,0.555,[]],
[0.49,0.535,0.565,0.585,0.65,0.555,[]],
null];

// ---------- y tick values per facet ----------
const spr_ticks = [[0.4,0.6,0.8],[0.4,0.6,0.8],[0.25,0.5,0.75],[0.4,0.6,0.8],[0.25,0.5,0.75,1],[0.4,0.6,0.8]];
const sum_ticks = [[0.2,0.4,0.6,0.8],[0.25,0.5,0.75],[0,0.25,0.5,0.75],[0,0.25,0.5,0.75],[0.25,0.5,0.75],[0.4,0.6,0.8]];
const aut_ticks = [[0.4,0.6,0.8],[0.5,0.6,0.7,0.8,0.9],[0,0.25,0.5,0.75],[0.4,0.5,0.6,0.7,0.8],[0,0.25,0.5,0.75,1],[0.6,0.7,0.8,0.9]];
const win_ticks = [[0.3,0.4,0.5,0.6,0.7,0.8],[0.3,0.4,0.5,0.6,0.7,0.8,0.9],[0.3,0.5,0.7],[0.3,0.4,0.5,0.6,0.7],[0.2,0.4,0.6,0.8,1.0],[0.4,0.5,0.6,0.7]];
const tickDecimals = [[1,1,2,1,2,1],[1,2,2,2,2,1],[1,1,2,1,2,1],[1,1,1,1,1,1]];

// ---------- R-style HCL (polarLUV) to hex ----------
function hclR(h, c, l) {
  const hr = h * Math.PI / 180, U = c * Math.cos(hr), V = c * Math.sin(hr);
  const Xn = 95.047, Yn = 100, Zn = 108.883;
  const Y = l > 8 ? Yn * Math.pow((l + 16) / 116, 3) : Yn * l / 903.3;
  const t = Xn + 15 * Yn + 3 * Zn, un = 4 * Xn / t, vn = 9 * Yn / t;
  const u = U / (13 * l) + un, v = V / (13 * l) + vn;
  const X = 9 * Y * u / (4 * v), Z = -X / 3 - 5 * Y + 3 * Y / v;
  const x = X / 100, y = Y / 100, z = Z / 100;
  const lin = [3.240479 * x - 1.537150 * y - 0.498535 * z,
              -0.969256 * x + 1.875992 * y + 0.041556 * z,
               0.055648 * x - 0.204043 * y + 1.057311 * z];
  const g = lin.map(c0 => { let s = c0 <= 0.0031308 ? 12.92 * c0 : 1.055 * Math.pow(c0, 1 / 2.4) - 0.055; return Math.round(Math.max(0, Math.min(1, s)) * 255); });
  return d3.rgb(g[0], g[1], g[2]).formatHex();
}

// ---------- layout ----------
const root = document.getElementById("root");
const FH = 96, FSTEP = 108.5;
const panels = [
  {title:"2013spr", models:modelsA, hues:huesA, data:[spr_EC,spr_NH4,spr_NO3,spr_OC,spr_SO4,spr_Total], ticks:spr_ticks, dec:tickDecimals[0], x0:82, x1:591, top:34, tt:[83,10], yt:[20,353], mt:[328,733]},
  {title:"2013sum", models:modelsB, hues:huesB, data:[sum_EC,sum_NH4,sum_NO3,sum_OC,sum_SO4,sum_Total], ticks:sum_ticks, dec:tickDecimals[1], x0:707, x1:1218, top:34, tt:[711,11], yt:[648,353], mt:[955,739]},
  {title:"2013aut", models:modelsA, hues:huesA, data:[aut_EC,aut_NH4,aut_NO3,aut_OC,aut_SO4,aut_Total], ticks:aut_ticks, dec:tickDecimals[2], x0:82, x1:591, top:818, tt:[83,798], yt:[20,1140], mt:[315,1531]},
  {title:"2014win", models:modelsA, hues:huesA, data:[win_EC,win_NH4,win_NO3,win_OC,win_SO4,win_Total], ticks:win_ticks, dec:tickDecimals[3], x0:712, x1:1231, top:818, tt:[711,800], yt:[660,1140], mt:[944,1537]}
];

function addDiv(cls, text, css) {
  const d = document.createElement("div");
  d.className = cls; d.textContent = text; Object.assign(d.style, css); root.appendChild(d); return d;
}

function facet(p, fi, colors) {
  const rows = p.data[fi], models = p.models;
  const boxes = [], outs = [];
  rows.forEach((r, i) => {
    if (!r) return;
    const [lo, q1, med, q3, hi, mean, o] = r;
    boxes.push({model: models[i], lo, q1, med, q3, hi, mean});
    (o || []).forEach(v => outs.push({model: models[i], v}));
  });
  const vals = boxes.flatMap(b => [b.lo, b.hi, b.mean]).concat(outs.map(o => o.v));
  const mn = d3.min(vals), mx = d3.max(vals), pad = (mx - mn) * 0.05;
  const dom = [mn - pad, mx + pad];
  const ticks = p.ticks[fi].filter(t => t >= dom[0] - 1e-9 && t <= dom[1] + 1e-9);
  const dec = p.dec[fi];
  const last = fi === 5;
  const ML = 60, MR = 1, MT = 3, MB = last ? 60 : 3;
  const top = p.top + fi * FSTEP;
  const marks = [
    Plot.ruleX(boxes, {x: "model", y1: "lo", y2: "q1", stroke: "model", strokeWidth: 1.2}),
    Plot.ruleX(boxes, {x: "model", y1: "q3", y2: "hi", stroke: "model", strokeWidth: 1.2}),
    Plot.barY(boxes, {x: "model", y1: "q1", y2: "q3", fill: "white", stroke: "model", strokeWidth: 1.2}),
    Plot.tickY(boxes, {x: "model", y: "med", stroke: "model", strokeWidth: 2.6}),
    Plot.dot(outs, {x: "model", y: "v", fill: "model", r: 1.5}),
    Plot.dot(boxes, {x: "model", y: "mean", fill: "white", stroke: "#111", r: 2.9, strokeWidth: 1.2}),
    Plot.axisY(ticks, {tickFormat: d => d.toFixed(dec), fontSize: 15, tickSize: 4, tickPadding: 2, label: null, stroke: "#333", fill: "#4d4d4d"}),
    Plot.frame({stroke: "#777", strokeWidth: 1})
  ];
  if (last) marks.push(Plot.axisX({tickRotate: -45, fontSize: 11, tickSize: 4, tickPadding: 2, label: null, stroke: "#333", fill: "#7a7a7a"}));
  const svg = Plot.plot({
    width: ML + (p.x1 - p.x0) + MR, height: MT + FH + MB,
    marginLeft: ML, marginRight: MR, marginTop: MT, marginBottom: MB,
    x: {type: "band", domain: models, paddingInner: 0.22, paddingOuter: 0.21, label: null, axis: null},
    y: {domain: dom, label: null, axis: null},
    color: {type: "ordinal", domain: models, range: colors},
    style: {fontFamily: "'Liberation Sans', Arial, sans-serif", background: "transparent", overflow: "visible"},
    marks
  });
  svg.style.position = "absolute";
  svg.style.left = (p.x0 - ML) + "px";
  svg.style.top = (top - MT) + "px";
  root.appendChild(svg);
  addDiv("strip", facetNames[fi], {left: p.x1 + "px", top: top + "px", width: "35px", height: FH + "px"});
}

panels.forEach(p => {
  const colors = p.hues.map(h => hclR(h, 100, 65));
  for (let fi = 0; fi < 6; fi++) facet(p, fi, colors);
  addDiv("title", p.title, {left: p.tt[0] + "px", top: p.tt[1] + "px"});
  addDiv("ytitle", "Index of Agreement", {left: p.yt[0] + "px", top: p.yt[1] + "px"});
  addDiv("xtitle", "Model ID", {left: p.mt[0] + "px", top: p.mt[1] + "px"});
});
</script></body></html>
